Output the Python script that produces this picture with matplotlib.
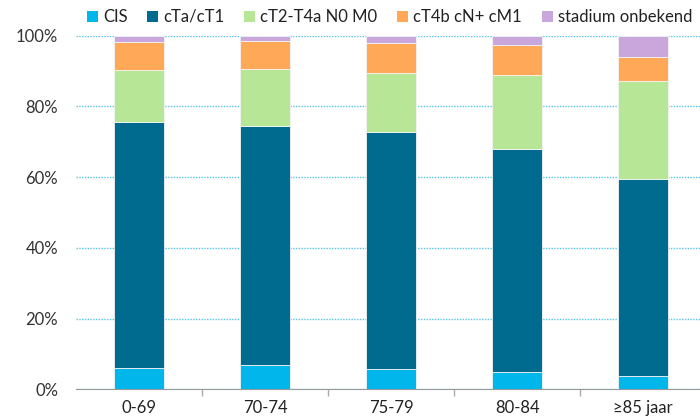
import numpy as np
import matplotlib.pyplot as plt
from matplotlib.patches import Patch

plt.rcParams['font.family'] = ['Lato', 'DejaVu Sans']

groepen = ['0-69', '70-74', '75-79', '80-84', '≥85 jaar']
cis = [5.9, 6.8, 5.7, 4.9, 3.8]
cta_ct1 = [69.8, 67.6, 67.1, 63.1, 55.7]
ct2_t4a = [14.5, 16.2, 16.7, 20.8, 27.7]
ct4b = [7.9, 7.9, 8.4, 8.5, 6.7]
onbekend = [1.9, 1.5, 2.1, 2.7, 6.1]

reeksen = ['CIS', 'cTa/cT1', 'cT2-T4a N0 M0', 'cT4b cN+ cM1', 'stadium onbekend']
kleuren = ['#00B6EA', '#006B8E', '#B8E697', '#FFA858', '#C9A6DB']

fig = plt.figure(figsize=(7, 4.2), dpi=100)
ax = fig.add_axes([76.3/700, 30.7/420, 630/700, 353.6/420])

x = np.arange(len(groepen))
bottom = np.zeros(len(groepen))
for waarden, kleur in zip([cis, cta_ct1, ct2_t4a, ct4b, onbekend], kleuren):
    ax.bar(x, waarden, bottom=bottom, width=50/126, color=kleur,
           edgecolor='#f4f4f4', linewidth=0.6, zorder=3)
    bottom += np.array(waarden)

ax.set_xlim(-0.5, len(groepen) - 0.5)
ax.set_ylim(0, 100)
ax.set_yticks(np.arange(0, 101, 20))
ax.set_yticklabels([f'{v}%' for v in range(0, 101, 20)])
ax.yaxis.grid(True, linestyle=(0, (1, 1)), color='#55C5EA', linewidth=1, zorder=0)
ax.tick_params(axis='y', length=0, pad=13, labelsize=12, labelcolor='#333333')

ax.set_xticks(x)
ax.set_xticklabels(groepen)
ax.tick_params(axis='x', length=0, pad=8, labelsize=12, labelcolor='#222222')
ax.set_xticks(np.arange(0.5, len(groepen) - 0.5), minor=True)
ax.tick_params(axis='x', which='minor', length=5, color='#AAAAAA', width=1)

for s in ['top', 'right', 'left']:
    ax.spines[s].set_visible(False)
ax.spines['bottom'].set_color('#999999')

handles = [Patch(facecolor=k, label=r) for r, k in zip(reeksen, kleuren)]
fig.legend(handles=handles, loc='center left', bbox_to_anchor=(72/700, 1 - 17/420),
           ncol=5, frameon=False, fontsize=12, handlelength=0.65, handleheight=0.65,
           handletextpad=0.3, columnspacing=1.2, labelcolor='#222222')

fig.savefig('out.png', dpi=100)
